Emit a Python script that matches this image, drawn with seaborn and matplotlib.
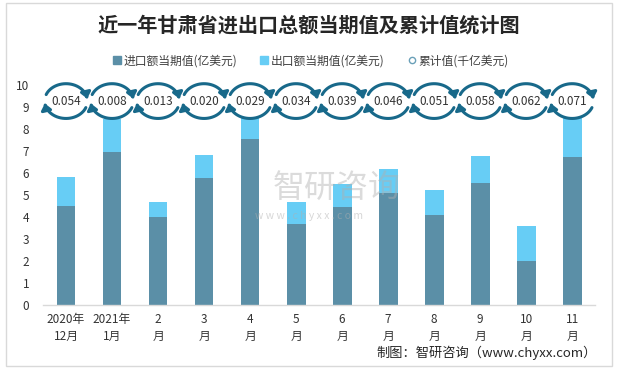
import numpy as np
import pandas as pd
import matplotlib
matplotlib.use("Agg")
import matplotlib.pyplot as plt
import seaborn as sns
from matplotlib.patches import Ellipse, FancyArrowPatch, Rectangle
from matplotlib.path import Path
from matplotlib.lines import Line2D

categories = ["2020年\n12月", "2021年\n1月", "2\n月", "3\n月", "4\n月", "5\n月",
              "6\n月", "7\n月", "8\n月", "9\n月", "10\n月", "11\n月"]
import_vals = [4.52, 6.95, 3.99, 5.77, 7.53, 3.70, 4.44, 5.11, 4.11, 5.53, 2.01, 6.71]
export_vals = [1.32, 1.50, 0.71, 1.03, 1.37, 1.00, 1.04, 1.05, 1.10, 1.23, 1.60, 2.20]
cumulative = ["0.054", "0.008", "0.013", "0.020", "0.029", "0.034",
              "0.039", "0.046", "0.051", "0.058", "0.062", "0.071"]

c_imp = "#5b8fa7"
c_exp = "#67cdf5"
c_ring = "#18698a"

sns.set_theme(style="white")
plt.rcParams["font.family"] = ["Noto Sans CJK SC", "DejaVu Sans"]

df = pd.DataFrame({"cat": categories, "imp": import_vals, "exp": export_vals})
df["total"] = df["imp"] + df["exp"]

fig = plt.figure(figsize=(6.18, 3.69), dpi=100)
ax = fig.add_axes([0.0696, 0.1734, 0.8934, 0.5962])

sns.barplot(data=df, x="cat", y="total", color=c_exp, saturation=1, width=0.41,
            linewidth=0, ax=ax)
sns.barplot(data=df, x="cat", y="imp", color=c_imp, saturation=1, width=0.41,
            linewidth=0, ax=ax)

ax.set_ylim(0, 10)
ax.set_xlim(-0.5, len(categories) - 0.5)
ax.set_yticks(range(0, 11))
ax.set_xlabel("")
ax.set_ylabel("")
ax.tick_params(axis="y", labelsize=8.5, colors="#333333", length=0, pad=10)
ax.tick_params(axis="x", labelsize=8.5, colors="#333333", length=0, pad=6)
for lab in ax.get_xticklabels():
    lab.set_linespacing(1.35)
for s in ["top", "right", "left"]:
    ax.spines[s].set_visible(False)
ax.spines["bottom"].set_color("#d9d9d9")
ax.spines["bottom"].set_linewidth(1)

# cumulative value rings
cy = 9.27
a, b = 0.465, 0.79
for i, val in enumerate(cumulative):
    ax.add_patch(Ellipse((i, cy), 2 * a, 2 * b, facecolor="white", edgecolor="none", zorder=5, clip_on=False))
    t1 = np.radians(np.linspace(158, 8, 30))
    v1 = np.column_stack([i + a * np.cos(t1), cy + b * np.sin(t1)])
    t2 = np.radians(np.linspace(-22, -172, 30))
    v2 = np.column_stack([i + a * np.cos(t2), cy + b * np.sin(t2)])
    for v in (v1, v2):
        arr = FancyArrowPatch(path=Path(v), arrowstyle="-|>,head_length=3.0,head_width=2.5",
                              color=c_ring, lw=2.2, shrinkA=0, shrinkB=0, zorder=6,
                              clip_on=False, mutation_scale=1.2)
        ax.add_patch(arr)
    ax.text(i, cy, val, ha="center", va="center", fontsize=8.5, color="#333333", zorder=7)

# watermark
fig.text(0.545, 0.49, "智研咨询", fontsize=23, color="#b0b0b0", alpha=0.45, ha="center", va="center")
fig.text(0.50, 0.415, "w w w . c h y x x . c o m", fontsize=7.5, color="#b0b0b0", alpha=0.5, ha="center", va="center")

# title
fig.text(0.500, 0.932, "近一年甘肃省进出口总额当期值及累计值统计图", fontsize=14.5,
         fontweight="bold", color="#262626", ha="center", va="center")

# legend
handles = [
    Line2D([], [], marker="s", linestyle="none", markersize=6, color=c_imp),
    Line2D([], [], marker="s", linestyle="none", markersize=6, color=c_exp),
    Line2D([], [], marker="o", linestyle="none", markersize=4.5, markerfacecolor="white",
           markeredgecolor="#6aa0b8", markeredgewidth=1),
]
labels = ["进口额当期值(亿美元)", "出口额当期值(亿美元)", "累计值(千亿美元)"]
fig.legend(handles, labels, loc="center", bbox_to_anchor=(0.502, 0.835), ncol=3, frameon=False,
           fontsize=8.5, handletextpad=0.15, columnspacing=1.9, handlelength=0.8,
           labelcolor="#404040")

# source
fig.text(0.965, 0.043, "制图：智研咨询（www.chyxx.com）", fontsize=9.5, color="#262626",
         ha="right", va="center")

# border
fig.patches.append(Rectangle((0.009, 0.008), 0.981, 0.984, transform=fig.transFigure,
                             fill=False, edgecolor="#d9d9d9", lw=1))

fig.savefig("out.png", dpi=100)
